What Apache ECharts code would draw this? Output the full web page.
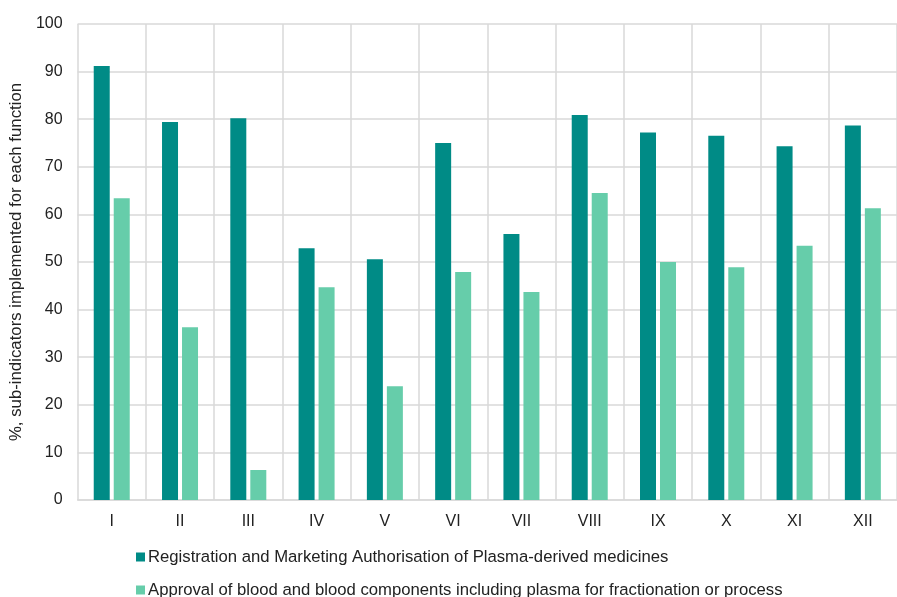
<!DOCTYPE html>
<html>
<head>
<meta charset="utf-8">
<script src="https://cdn.jsdelivr.net/npm/echarts@6/dist/echarts.min.js"></script>
<style>
  html, body { margin: 0; padding: 0; background: #fff; }
  #chart { width: 897px; height: 597px; }
</style>
</head>
<body>
<div id="chart"></div>
<script>
// Functions I–XII
const categories = ['I', 'II', 'III', 'IV', 'V', 'VI', 'VII', 'VIII', 'IX', 'X', 'XI', 'XII'];

// % of sub-indicators implemented per function
const registrationValues = [91.2, 79.4, 80.2, 52.9, 50.6, 75.0, 55.9, 80.9, 77.2, 76.5, 74.3, 78.7];
const approvalValues = [63.4, 36.3, 6.3, 44.7, 23.9, 47.9, 43.7, 64.5, 50.0, 48.9, 53.4, 61.3];

const seriesNames = [
  'Registration and Marketing Authorisation of Plasma-derived medicines',
  'Approval of blood and blood components including plasma for fractionation or process'
];

const yAxisTitle = '%, sub-indicators implemented for each function';

const gridColor = '#d9d9d9';
const textColor = '#222';
const fontFamily = 'Liberation Sans, Arial, sans-serif';

const chart = echarts.init(document.getElementById('chart'));

// one legend row per series, stacked under the plot
function legendRow(name, top) {
  return {
    orient: 'horizontal',
    left: 136,
    top: top,
    padding: 0,
    itemWidth: 9,
    itemHeight: 9,
    icon: 'rect',
    textStyle: { fontSize: 16.7, lineHeight: 20, color: textColor, fontFamily: fontFamily, padding: [0, 0, 0, -2] },
    data: [name]
  };
}

chart.setOption({
  animation: false,
  textStyle: { fontFamily: fontFamily },
  grid: { left: 77, top: 24, width: 830, bottom: 97, containLabel: false },
  legend: [legendRow(seriesNames[0], 547), legendRow(seriesNames[1], 580)],
  xAxis: {
    type: 'category',
    data: categories,
    boundaryGap: true,
    axisLine: { show: true, lineStyle: { color: gridColor, width: 1.5 } },
    axisTick: { show: false },
    axisLabel: { fontSize: 16, color: textColor, margin: 14 },
    splitLine: { show: true, lineStyle: { color: gridColor, width: 1.5 } }
  },
  yAxis: {
    type: 'value',
    min: 0,
    max: 100,
    interval: 10,
    name: yAxisTitle,
    nameLocation: 'middle',
    nameGap: 52,
    nameTextStyle: { fontSize: 16.8, color: textColor },
    axisLine: { show: false },
    axisTick: { show: false },
    axisLabel: { fontSize: 16, color: textColor, margin: 15 },
    splitLine: { show: true, lineStyle: { color: gridColor, width: 1.5 } }
  },
  series: [
    {
      name: seriesNames[0],
      type: 'bar',
      data: registrationValues,
      barWidth: 16,
      barGap: '25%',
      itemStyle: { color: '#008b86' }
    },
    {
      name: seriesNames[1],
      type: 'bar',
      data: approvalValues,
      barWidth: 16,
      itemStyle: { color: '#66cdaa' }
    }
  ]
});
</script>
</body>
</html>
